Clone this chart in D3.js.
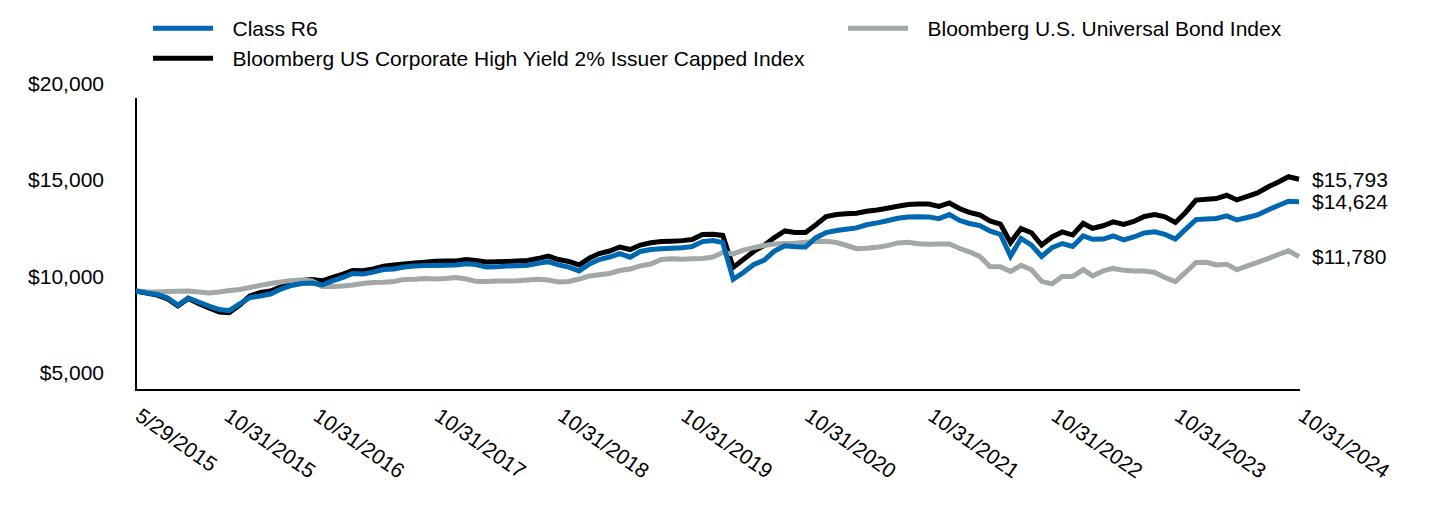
<!DOCTYPE html>
<html>
<head>
<meta charset="utf-8">
<script src="https://cdn.jsdelivr.net/npm/d3@7"></script>
<style>
  html, body { margin: 0; padding: 0; background: #ffffff; }
  svg { display: block; font-family: "Liberation Sans", Arial, sans-serif; }
</style>
</head>
<body>
<svg id="chart" width="1440" height="516"></svg>
<script>
// ---------------- DATA ----------------
const firstDate = "2015-05-29";
const monthCount = 114; // 5/29/2015 then each month end through 10/31/2024

const tickLabels = ["5/29/2015", "10/31/2015", "10/31/2016", "10/31/2017", "10/31/2018",
  "10/31/2019", "10/31/2020", "10/31/2021", "10/31/2022", "10/31/2023", "10/31/2024"];

const yTickValues = [5000, 10000, 15000, 20000];

const seriesNames = ["Class R6",
  "Bloomberg US Corporate High Yield 2% Issuer Capped Index",
  "Bloomberg U.S. Universal Bond Index"];

const classR6 = [
  10000, 9900, 9820, 9640, 9270, 9640, 9430, 9220, 9040, 8980,
  9330, 9660, 9740, 9845, 10100, 10285, 10390, 10410, 10310, 10520,
  10700, 10910, 10880, 10980, 11110, 11140, 11240, 11300, 11320, 11320,
  11340, 11350, 11410, 11370, 11240, 11250, 11300, 11310, 11340, 11430,
  11520, 11350, 11240, 11040, 11400, 11630, 11760, 11940, 11750, 12050,
  12150, 12190, 12220, 12240, 12300, 12560, 12610, 12510, 10610, 10960,
  11370, 11590, 12070, 12340, 12290, 12280, 12750, 13030, 13130, 13200,
  13270, 13430, 13530, 13640, 13770, 13830, 13850, 13840, 13750, 13960,
  13650, 13500, 13390, 13110, 12930, 11810, 12720, 12380, 11790, 12250,
  12460, 12310, 12850, 12680, 12690, 12850, 12650, 12800, 13010, 13070,
  12930, 12690, 13190, 13700, 13730, 13760, 13890, 13680, 13810, 13940,
  14200, 14430, 14650, 14624
];

const hyIndex = [
  10000, 9900, 9790, 9590, 9220, 9610, 9350, 9120, 8910, 8880,
  9270, 9740, 9920, 10000, 10220, 10410, 10540, 10600, 10530, 10700,
  10880, 11060, 11050, 11140, 11280, 11350, 11400, 11450, 11490, 11540,
  11550, 11560, 11630, 11580, 11500, 11510, 11530, 11550, 11580, 11680,
  11810, 11630, 11530, 11350, 11710, 11940, 12070, 12280, 12150, 12380,
  12500, 12560, 12580, 12610, 12670, 12930, 12940, 12880, 11220, 11630,
  12050, 12360, 12770, 13110, 13030, 13030, 13420, 13860, 13960, 14000,
  14030, 14130, 14200, 14290, 14390, 14480, 14510, 14510, 14380, 14560,
  14260, 14070, 13940, 13630, 13470, 12510, 13240, 13020, 12380, 12800,
  13060, 12900, 13500, 13250, 13380, 13580, 13450, 13600, 13860, 13960,
  13840, 13550, 14070, 14710, 14750, 14790, 14960, 14720, 14900, 15080,
  15390, 15650, 15920, 15793
];

const universalIndex = [
  10000, 9960, 9950, 9970, 9990, 10000, 9950, 9900, 9950, 10030,
  10080, 10180, 10290, 10390, 10470, 10550, 10570, 10520, 10230, 10230,
  10260, 10310, 10390, 10440, 10450, 10490, 10600, 10610, 10650, 10620,
  10650, 10700, 10620, 10500, 10490, 10520, 10520, 10530, 10570, 10610,
  10570, 10470, 10490, 10620, 10780, 10840, 10910, 11060, 11140, 11300,
  11400, 11630, 11670, 11650, 11670, 11690, 11760, 11990, 11920, 12120,
  12250, 12360, 12440, 12460, 12480, 12530, 12570, 12580, 12510, 12370,
  12190, 12210, 12270, 12350, 12490, 12520, 12450, 12420, 12430, 12440,
  12200, 12030, 11790, 11270, 11260, 11010, 11330, 11100, 10500, 10370,
  10750, 10750, 11110, 10780, 11040, 11170, 11070, 11040, 11040, 10960,
  10700, 10490, 10960, 11480, 11490, 11350, 11390, 11100, 11300, 11480,
  11680, 11890, 12080, 11780
];

const seriesColors = ["#0067b1", "#000000", "#a2a7a7"];

// ---------------- DATES ----------------
const parseISO = d3.utcParse("%Y-%m-%d");
const parseTick = d3.utcParse("%m/%d/%Y");
const start = parseISO(firstDate);
const firstOfNextMonth = d3.utcMonth.offset(d3.utcMonth.floor(start), 1);
const dates = d3.range(monthCount).map(i =>
  i === 0 ? start : d3.utcDay.offset(d3.utcMonth.offset(firstOfNextMonth, i), -1));

// ---------------- LAYOUT ----------------
const svg = d3.select("#chart");
const plotLeft = 136, plotRight = 1299, plotTop = 98, plotBottom = 390;
const fontSize = 21;

const x = d3.scaleUtc().domain([dates[0], dates[dates.length - 1]]).range([plotLeft, plotRight]);
const y = d3.scaleLinear().domain([5000, 20000]).range([387.5, plotTop]);

svg.append("rect").attr("width", 1440).attr("height", 516).attr("fill", "#fff");

// axes lines
svg.append("line").attr("x1", plotLeft).attr("x2", plotLeft)
  .attr("y1", plotTop).attr("y2", plotBottom + 1)
  .attr("stroke", "#000").attr("stroke-width", 2);
svg.append("line").attr("x1", plotLeft - 1).attr("x2", plotRight + 1)
  .attr("y1", plotBottom).attr("y2", plotBottom)
  .attr("stroke", "#000").attr("stroke-width", 2);

// y labels
svg.append("g").selectAll("text").data(yTickValues).join("text")
  .attr("x", 104)
  .attr("y", d => y(d) - 15)
  .attr("text-anchor", "end")
  .attr("dominant-baseline", "central")
  .attr("font-size", fontSize)
  .attr("fill", "#000")
  .text(d => d3.format("$,")(d));

// x labels with collision avoidance
const minGap = 89;
let prevX = -Infinity;
const tickPos = tickLabels.map(t => {
  let px = x(parseTick(t)) - 2;
  if (px < prevX + minGap) px = prevX + minGap;
  prevX = px;
  return { label: t, px };
});
svg.append("g").selectAll("text").data(tickPos).join("text")
  .attr("transform", d => `translate(${d.px},419) rotate(35)`)
  .attr("font-size", fontSize)
  .attr("fill", "#000")
  .text(d => d.label);

// lines
const series = [
  { name: seriesNames[1], values: hyIndex, color: seriesColors[1] },
  { name: seriesNames[2], values: universalIndex, color: seriesColors[2] },
  { name: seriesNames[0], values: classR6, color: seriesColors[0] }
];
const line = d3.line().x((d, i) => x(dates[i])).y(d => y(d));
svg.append("g").selectAll("path").data(series).join("path")
  .attr("d", d => line(d.values))
  .attr("fill", "none")
  .attr("stroke", d => d.color)
  .attr("stroke-width", 5)
  .attr("stroke-linejoin", "miter")
  .attr("stroke-linecap", "butt");

// end labels
svg.append("g").selectAll("text").data(series).join("text")
  .attr("x", 1312)
  .attr("y", d => y(d.values[d.values.length - 1]))
  .attr("dominant-baseline", "central")
  .attr("font-size", fontSize)
  .attr("fill", "#000")
  .text(d => d3.format("$,")(d.values[d.values.length - 1]));

// legend
const legend = [
  { name: seriesNames[0], color: seriesColors[0], lx: 153, ly: 28.3 },
  { name: seriesNames[1], color: seriesColors[1], lx: 153, ly: 58.3 },
  { name: seriesNames[2], color: seriesColors[2], lx: 848, ly: 28.3 }
];
const lg = svg.append("g").selectAll("g").data(legend).join("g");
lg.append("line")
  .attr("x1", d => d.lx).attr("x2", d => d.lx + 60)
  .attr("y1", d => d.ly).attr("y2", d => d.ly)
  .attr("stroke", d => d.color).attr("stroke-width", 5);
lg.append("text")
  .attr("x", d => d.lx + 79.5)
  .attr("y", d => d.ly + 7.5)
  .attr("font-size", fontSize)
  .attr("fill", "#000")
  .text(d => d.name);
</script>
</body>
</html>
